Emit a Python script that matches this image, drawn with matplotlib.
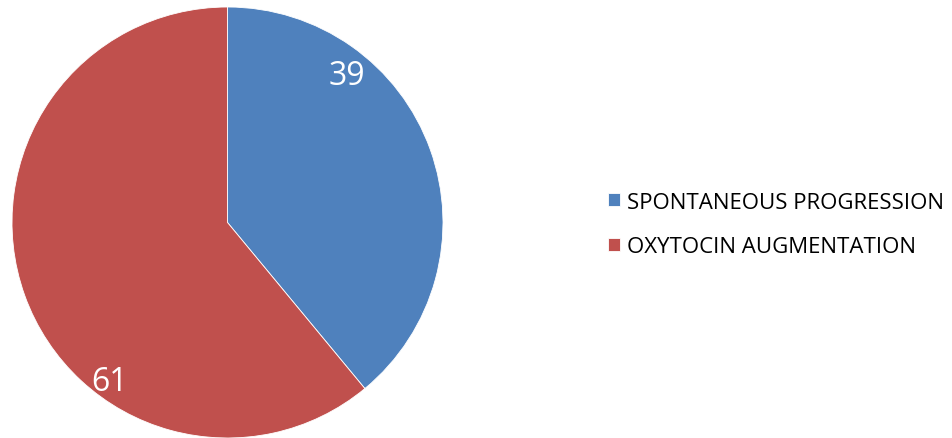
import matplotlib
matplotlib.use("Agg")
import matplotlib.pyplot as plt

categories = ["SPONTANEOUS PROGRESSION", "OXYTOCIN AUGMENTATION"]
values = [39, 61]
colors = ["#4F81BD", "#C0504D"]

W, H = 953, 439
fig = plt.figure(figsize=(W / 100, H / 100), dpi=100)
ax = fig.add_axes([12 / W, 0 / H, 431 / W, 431 / H])

wedges, _ = ax.pie(
    values, colors=colors, startangle=90, counterclock=False,
    radius=1.0, wedgeprops=dict(edgecolor="white", linewidth=0.6),
)
ax.set_xlim(-1, 1)
ax.set_ylim(-1, 1)
ax.set_aspect("equal")
ax.axis("off")

# value labels inside the slices
label_pos = [(0.555, 0.68), (-0.545, -0.74)]
for (x, y), v in zip(label_pos, values):
    ax.text(x, y, str(v), ha="center", va="center", color="white",
            fontsize=23, family="Open Sans")

fig.legend(
    wedges, categories, loc="center left",
    bbox_to_anchor=(608 / W, 1 - 225.5 / H), frameon=False,
    prop=dict(family="Open Sans", size=16),
    handlelength=0.54, handleheight=0.54, handletextpad=0.3,
    labelspacing=1.07, borderaxespad=0, borderpad=0,
)

fig.savefig("out.png", dpi=100, facecolor="white")
